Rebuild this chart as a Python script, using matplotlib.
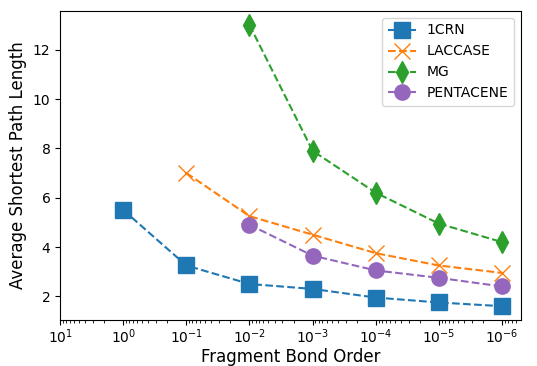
import matplotlib
matplotlib.use('Agg')
import matplotlib.pyplot as plt

bond_orders = [1e0, 1e-1, 1e-2, 1e-3, 1e-4, 1e-5, 1e-6]

crn = [5.5, 3.25, 2.5, 2.3, 1.95, 1.75, 1.6]
laccase = [7.0, 5.25, 4.5, 3.75, 3.25, 2.95]
mg = [13.0, 7.9, 6.2, 4.95, 4.2]
pentacene = [4.9, 3.65, 3.05, 2.75, 2.4]

ms = 11

fig, ax = plt.subplots(figsize=(5.37, 3.66), dpi=100)
fig.subplots_adjust(left=0.112, right=0.970, top=0.970, bottom=0.125)

ax.plot(bond_orders, crn, 's--', color='C0', markersize=ms, label='1CRN')
ax.plot(bond_orders[1:], laccase, 'x--', color='C1', markersize=ms, label='LACCASE')
ax.plot(bond_orders[2:], mg, 'd--', color='C2', markersize=ms, label='MG')
ax.plot(bond_orders[2:], pentacene, 'o--', color='C4', markersize=ms, label='PENTACENE')

ax.set_xscale('log')
ax.set_xlim(10, 10**-6.3)
ax.set_xticks([10.0 ** e for e in range(1, -7, -1)])
ax.tick_params(axis='x', pad=2)
ax.set_xlabel('Fragment Bond Order', fontsize=12, labelpad=1)
ax.set_ylabel('Average Shortest Path Length', fontsize=12)
ax.legend(loc='upper right')

plt.savefig('out.png')
